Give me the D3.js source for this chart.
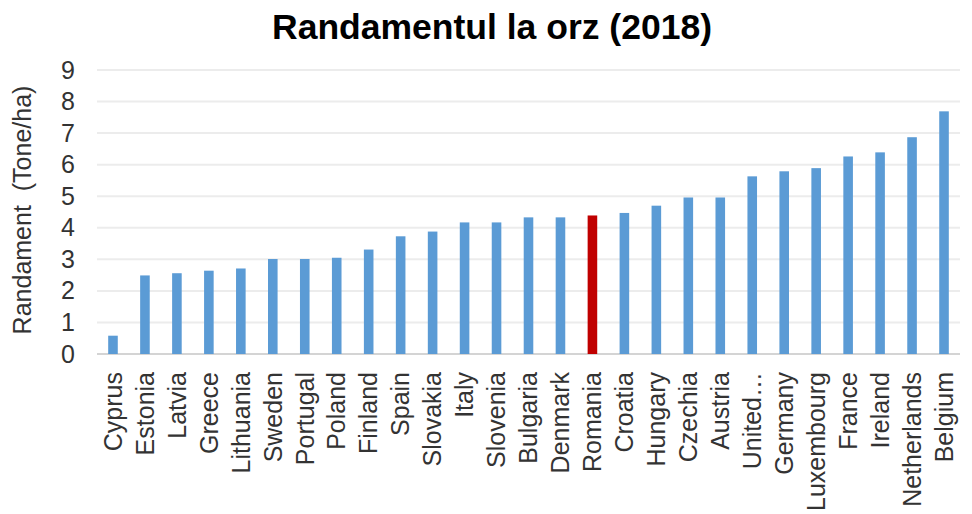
<!DOCTYPE html>
<html>
<head>
<meta charset="utf-8">
<script src="https://cdn.jsdelivr.net/npm/d3@7"></script>
<style>
  body { margin: 0; background: #fff; }
  text { font-family: "Liberation Sans", Arial, sans-serif; }
</style>
</head>
<body>
<svg id="chart"></svg>
<script>
const countries = ["Cyprus", "Estonia", "Latvia", "Greece", "Lithuania", "Sweden", "Portugal", "Poland",
  "Finland", "Spain", "Slovakia", "Italy", "Slovenia", "Bulgaria", "Denmark", "Romania", "Croatia",
  "Hungary", "Czechia", "Austria", "United…", "Germany", "Luxembourg", "France", "Ireland",
  "Netherlands", "Belgium"];
const yields = [0.58, 2.49, 2.56, 2.64, 2.71, 3.01, 3.01, 3.05, 3.31, 3.73, 3.88, 4.17, 4.17, 4.33,
  4.33, 4.39, 4.47, 4.70, 4.96, 4.96, 5.63, 5.79, 5.89, 6.26, 6.39, 6.87, 7.69];
const yTicks = [0, 1, 2, 3, 4, 5, 6, 7, 8, 9];
const highlight = "Romania";

const width = 972;
const height = 514;
const margin = { top: 70, right: 12, bottom: 160, left: 97 };

const svg = d3.select("#chart")
  .attr("width", width)
  .attr("height", height);

const data = countries.map((c, i) => ({ country: c, value: yields[i] }));

const xScale = d3.scaleBand()
  .domain(countries)
  .range([margin.left, width - margin.right])
  .paddingInner(0.7)
  .paddingOuter(0.35);

const yScale = d3.scaleLinear()
  .domain([0, 9])
  .range([height - margin.bottom, margin.top]);

// gridlines
svg.append("g")
  .selectAll("line")
  .data(yTicks)
  .enter()
  .append("line")
  .attr("x1", margin.left)
  .attr("x2", width - margin.right)
  .attr("y1", d => yScale(d))
  .attr("y2", d => yScale(d))
  .attr("stroke", d => d === 0 ? "#d4d4d4" : "#ececec")
  .attr("stroke-width", 2);

// y axis labels
const yAxis = d3.axisLeft(yScale)
  .tickValues(yTicks)
  .tickSize(0)
  .tickPadding(22);

svg.append("g")
  .attr("transform", `translate(${margin.left}, 0)`)
  .call(yAxis)
  .call(g => g.select(".domain").remove())
  .call(g => g.selectAll("text")
    .attr("font-size", 25)
    .attr("font-family", "Liberation Sans, Arial, sans-serif")
    .attr("fill", "#333"));

// bars
svg.append("g")
  .selectAll("rect")
  .data(data)
  .enter()
  .append("rect")
  .attr("x", d => xScale(d.country))
  .attr("width", xScale.bandwidth())
  .attr("y", d => yScale(d.value))
  .attr("height", d => yScale(0) - yScale(d.value))
  .attr("fill", d => d.country === highlight ? "#c00000" : "#5b9bd5");

// x axis labels
const xAxis = d3.axisBottom(xScale)
  .tickSize(0)
  .tickPadding(0);

svg.append("g")
  .attr("transform", `translate(0, ${yScale(0) + 18})`)
  .call(xAxis)
  .call(g => g.select(".domain").remove())
  .call(g => g.selectAll("text")
    .attr("font-size", 25)
    .attr("font-family", "Liberation Sans, Arial, sans-serif")
    .attr("fill", "#333")
    .attr("text-anchor", "end")
    .attr("dy", "0.35em")
    .attr("y", 0)
    .attr("transform", "rotate(-90)"));

// y axis title
svg.append("text")
  .attr("transform", `translate(31, 210) rotate(-90)`)
  .attr("text-anchor", "middle")
  .attr("font-size", 25)
  .attr("fill", "#333")
  .attr("xml:space", "preserve")
  .text("Randament  (Tone/ha)");

// title
svg.append("text")
  .attr("x", 492)
  .attr("y", 39)
  .attr("text-anchor", "middle")
  .attr("font-size", 35.5)
  .attr("font-weight", "bold")
  .attr("fill", "#000")
  .text("Randamentul la orz (2018)");
</script>
</body>
</html>
